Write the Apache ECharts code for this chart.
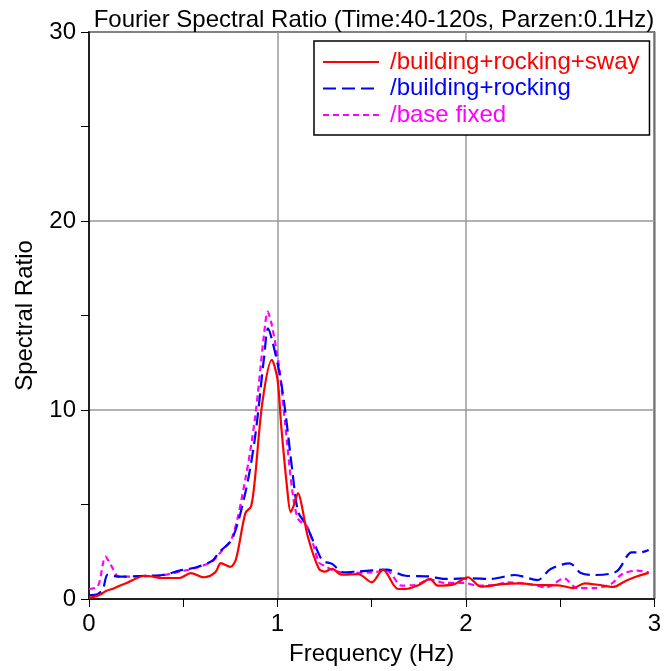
<!DOCTYPE html>
<html>
<head>
<meta charset="utf-8">
<script src="https://cdn.jsdelivr.net/npm/echarts@6/dist/echarts.min.js"></script>
<style>
  html, body { margin: 0; padding: 0; background: #fff; }
  #chart { width: 664px; height: 671px; }
</style>
</head>
<body>
<div id="chart"></div>
<script>
// values
const seriesNames = ["/building+rocking+sway", "/building+rocking", "/base fixed"];

const redFreq = [0, 0.04, 0.065, 0.09, 0.13, 0.2, 0.3, 0.39, 0.48, 0.54, 0.61, 0.67, 0.7, 0.75, 0.78, 0.83, 0.86, 0.88, 0.92, 0.97, 1.0, 1.02, 1.05, 1.07, 1.085, 1.11, 1.13, 1.16, 1.22, 1.25, 1.29, 1.34, 1.43, 1.5, 1.56, 1.64, 1.68, 1.75, 1.81, 1.85, 1.94, 2.01, 2.08, 2.19, 2.29, 2.38, 2.5, 2.57, 2.63, 2.71, 2.78, 2.85, 2.91, 2.97];
const redVal = [0.05, 0.15, 0.26, 0.42, 0.56, 0.85, 1.23, 1.11, 1.11, 1.37, 1.15, 1.41, 1.9, 1.7, 2.1, 4.55, 4.9, 6.3, 10.4, 12.65, 11.64, 9.17, 6.0, 4.6, 4.9, 5.6, 4.9, 3.35, 1.6, 1.45, 1.6, 1.29, 1.32, 0.88, 1.55, 0.53, 0.53, 0.74, 1.06, 0.71, 0.79, 1.15, 0.65, 0.79, 0.83, 0.74, 0.71, 0.58, 0.83, 0.74, 0.64, 0.97, 1.2, 1.38];

const blueFreq = [0, 0.047, 0.074, 0.1, 0.16, 0.3, 0.39, 0.48, 0.57, 0.655, 0.69, 0.76, 0.83, 0.88, 0.93, 0.95, 0.97, 1.01, 1.04, 1.08, 1.11, 1.15, 1.2, 1.24, 1.29, 1.35, 1.43, 1.58, 1.68, 1.8, 1.89, 2.03, 2.13, 2.26, 2.38, 2.45, 2.55, 2.61, 2.68, 2.8, 2.88, 2.93, 2.97];
const blueVal = [0.19, 0.26, 0.53, 1.29, 1.18, 1.23, 1.27, 1.5, 1.68, 2.03, 2.47, 3.18, 5.64, 8.47, 12.87, 14.32, 13.76, 12.0, 10.05, 6.7, 4.6, 3.97, 2.83, 2.03, 1.86, 1.41, 1.46, 1.55, 1.23, 1.2, 1.06, 1.09, 1.06, 1.27, 1.0, 1.59, 1.89, 1.38, 1.27, 1.46, 2.47, 2.47, 2.59];

const magFreq = [0, 0.047, 0.088, 0.118, 0.16, 0.3, 0.39, 0.48, 0.57, 0.655, 0.69, 0.76, 0.83, 0.88, 0.93, 0.948, 0.97, 1.01, 1.04, 1.08, 1.11, 1.16, 1.22, 1.25, 1.3, 1.36, 1.5, 1.58, 1.66, 1.73, 1.81, 1.89, 1.99, 2.06, 2.15, 2.22, 2.33, 2.43, 2.52, 2.59, 2.68, 2.77, 2.83, 2.91, 2.97];
const magVal = [0.53, 0.67, 2.24, 1.76, 1.18, 1.2, 1.25, 1.45, 1.65, 2.0, 2.38, 3.27, 6.35, 9.5, 14.1, 15.2, 14.5, 12.2, 9.35, 5.64, 4.23, 3.8, 1.94, 1.76, 1.5, 1.38, 1.41, 1.5, 0.71, 0.74, 1.02, 0.85, 0.85, 0.71, 0.74, 0.88, 0.79, 0.62, 1.09, 0.58, 0.58, 0.79, 1.32, 1.5, 1.41];

const colors = ["#ff0000", "#0000ff", "#ff00ff"];
const dashes = ["solid", [13, 6], [6, 4]];

function pairs(fs, vs) {
  return fs.map((f, i) => [f, vs[i]]);
}

const font = "'Liberation Sans', Arial, sans-serif";
const chart = echarts.init(document.getElementById("chart"));

chart.setOption({
  animation: false,
  title: {
    text: "Fourier Spectral Ratio (Time:40-120s, Parzen:0.1Hz)",
    left: 369,
    textAlign: "center",
    top: 3,
    textStyle: { fontFamily: font, fontSize: 24, fontWeight: "normal", color: "#000" }
  },
  grid: {
    left: 89,
    right: 8,
    top: 32,
    bottom: 71,
    show: true,
    borderColor: "#000",
    borderWidth: 1.5,
    backgroundColor: "#fff"
  },
  legend: {
    orient: "vertical",
    left: 314,
    top: 41,
    padding: [9, 10, 8, 8],
    itemGap: 2.5,
    itemWidth: 56,
    itemHeight: 22,
    borderColor: "#000",
    borderWidth: 1.5,
    backgroundColor: "#fff",
    itemStyle: { opacity: 0 },
    data: seriesNames.map((n, i) => ({
      name: n,
      textStyle: { color: colors[i], fontFamily: font, fontSize: 24, padding: [0, 0, 0, 6] }
    }))
  },
  xAxis: {
    type: "value",
    min: 0,
    max: 3,
    interval: 1,
    name: "Frequency (Hz)",
    nameLocation: "middle",
    nameGap: 43,
    nameTextStyle: { fontFamily: font, fontSize: 24, color: "#000" },
    axisLine: { onZero: false, lineStyle: { color: "#000", width: 1.5 } },
    axisTick: { show: true, length: 8, lineStyle: { color: "#000" } },
    minorTick: { show: true, splitNumber: 2, length: 8, lineStyle: { color: "#000" } },
    axisLabel: { fontFamily: font, fontSize: 24, color: "#000", margin: 13 },
    splitLine: { show: true, lineStyle: { color: "#999", width: 1.5 } }
  },
  yAxis: {
    type: "value",
    min: 0,
    max: 30,
    interval: 10,
    name: "Spectral Ratio",
    nameLocation: "middle",
    nameGap: 52,
    nameTextStyle: { fontFamily: font, fontSize: 24, color: "#000" },
    axisLine: { show: true, lineStyle: { color: "#000", width: 1.5 } },
    axisTick: { show: true, length: 8, lineStyle: { color: "#000" } },
    minorTick: { show: true, splitNumber: 2, length: 8, lineStyle: { color: "#000" } },
    axisLabel: { fontFamily: font, fontSize: 24, color: "#000", margin: 13 },
    splitLine: { show: true, lineStyle: { color: "#999", width: 1.5 } }
  },
  series: [
    { data: pairs(redFreq, redVal), z: 4 },
    { data: pairs(blueFreq, blueVal), z: 3 },
    { data: pairs(magFreq, magVal), z: 2 }
  ].map((s, i) => ({
    name: seriesNames[i],
    type: "line",
    data: s.data,
    z: s.z,
    smooth: 0.3,
    symbol: "none",
    color: colors[i],
    lineStyle: { color: colors[i], width: 2.2, type: dashes[i] }
  }))
});
</script>
</body>
</html>
